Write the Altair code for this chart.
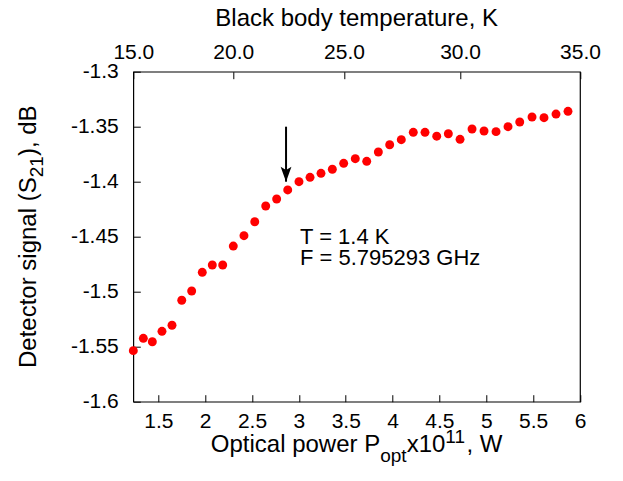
import json
import altair as alt
import pandas as pd

# ---------------- data ----------------
power = [1.233, 1.340, 1.436, 1.539, 1.646, 1.750, 1.856, 1.969, 2.076, 2.187,
         2.300, 2.414, 2.529, 2.646, 2.763, 2.881, 3.001, 3.119, 3.236, 3.357,
         3.478, 3.602, 3.724, 3.848, 3.969, 4.093, 4.221, 4.346, 4.471, 4.595,
         4.720, 4.848, 4.976, 5.104, 5.232, 5.357, 5.488, 5.616, 5.744, 5.872]
signal = [-1.5536, -1.5424, -1.5455, -1.5360, -1.5305, -1.5078, -1.4994, -1.4824, -1.4757, -1.4757,
          -1.4585, -1.4491, -1.4364, -1.4221, -1.4157, -1.4075, -1.4000, -1.3960, -1.3924, -1.3887,
          -1.3833, -1.3791, -1.3815, -1.3730, -1.3664, -1.3618, -1.3551, -1.3551, -1.3586, -1.3564,
          -1.3615, -1.3521, -1.3539, -1.3545, -1.3500, -1.3457, -1.3412, -1.3418, -1.3385, -1.3360]

x_ticks = [1.5, 2, 2.5, 3, 3.5, 4, 4.5, 5, 5.5, 6]
y_ticks = [-1.3, -1.35, -1.4, -1.45, -1.5, -1.55, -1.6]
top_tick_power = [1.233, 2.300, 3.482, 4.720, 6.0]
top_tick_labels = ["15.0", "20.0", "25.0", "30.0", "35.0"]

arrow_x = [2.863]
arrow_from = [-1.35]
arrow_to = [-1.40]

annotation = ["T = 1.4 K\nF = 5.795293 GHz"]

top_title = "Black body temperature, K"
# (text, role) pieces: role "n" normal, "sub" subscript, "sup" superscript
x_title = [("Optical power P", "n"), ("opt", "sub"), ("x10", "n"), ("11", "sup"), (", W", "n")]
y_title = [("Detector signal (S", "n"), ("21", "sub"), ("), dB", "n")]

X_DOM = [1.233, 6.0]
Y_DOM = [-1.6, -1.3]

# ---------------- styling ----------------
FONT = "Liberation Sans"
TICK_FS = 21
TITLE_FS = 24
SUB_FS = 19
ANN_FS = 22
W, H = 446.7, 330

# Arial / Liberation Sans advance widths (per 1000 em), used to place title pieces
ADV = {" ": 278, "(": 333, ")": 333, ",": 278, ".": 278, "D": 722, "B": 667, "K": 667,
       "O": 778, "P": 667, "S": 667, "W": 944, "a": 556, "b": 556, "c": 500, "d": 556,
       "e": 556, "g": 556, "i": 222, "l": 222, "n": 556, "o": 556, "p": 556, "r": 333,
       "s": 500, "t": 278, "w": 722, "x": 500}


def text_w(s, size):
    return sum(ADV.get(ch, 556) for ch in s) * size / 1000.0


xs = alt.Scale(domain=X_DOM, nice=False, zero=False)
ys = alt.Scale(domain=Y_DOM, nice=False, zero=False)

common_axis = dict(domain=False, grid=False, tickSize=7, offset=-7, tickColor="black",
                   tickWidth=1, labelFont=FONT, labelFontSize=TICK_FS, labelColor="black",
                   labelFlush=False, labelOverlap=False, title=None)

x_axis = alt.Axis(orient="bottom", values=x_ticks, labelExpr="'' + datum.value",
                  labelPadding=9, **common_axis)
y_axis = alt.Axis(orient="left", values=y_ticks, labelExpr="'' + datum.value",
                  labelPadding=15, **common_axis)
top_expr = "%s[indexof(%s, datum.value)]" % (json.dumps(top_tick_labels), json.dumps(top_tick_power))
top_axis_def = alt.Axis(orient="top", values=top_tick_power, labelExpr=top_expr,
                        labelPadding=9, **common_axis)

df = pd.DataFrame({"power": power, "signal": signal})
points = alt.Chart(df).mark_circle(size=80, color="#ff0000", opacity=1).encode(
    x=alt.X("power:Q", scale=xs, axis=x_axis),
    y=alt.Y("signal:Q", scale=ys, axis=y_axis),
)

arrow_df = pd.DataFrame({"x": arrow_x, "y": arrow_from, "y2": arrow_to})
shaft = alt.Chart(arrow_df).mark_rule(color="black", strokeWidth=2).encode(
    x=alt.X("x:Q", scale=xs), y=alt.Y("y:Q", scale=ys), y2="y2:Q")
head = alt.Chart(arrow_df).mark_point(
    shape="M0,0 L-0.72,-2 L0,-1.55 L0.72,-2 Z", size=225, filled=True,
    color="black", opacity=1, strokeWidth=0).encode(
    x=alt.X("x:Q", scale=xs), y=alt.Y("y2:Q", scale=ys))

ann = alt.Chart(pd.DataFrame({"t": annotation})).mark_text(
    align="left", baseline="alphabetic", font=FONT, fontSize=ANN_FS, lineBreak="\n",
    lineHeight=21, color="black").encode(text="t:N", x=alt.value(166.7), y=alt.value(172.3))


def label(text, x, y, size=TITLE_FS, align="left", angle=0):
    kw = dict(align=align, baseline="alphabetic", font=FONT, fontSize=size, color="black")
    if angle:
        kw["angle"] = angle
    return alt.Chart(pd.DataFrame({"t": [text]})).mark_text(**kw).encode(
        text="t:N", x=alt.value(x), y=alt.value(y))


def piece_size(role):
    return TITLE_FS if role == "n" else SUB_FS


titles = [label(top_title, W / 2, -45.5, align="center")]

# bottom title: laid out left to right, centred under the plot
X_BASE = 380
x_shift = {"n": 0, "sub": 10, "sup": -9}
total = sum(text_w(t, piece_size(r)) for t, r in x_title)
cx = W / 2 - total / 2
for t, r in x_title:
    titles.append(label(t, cx, X_BASE + x_shift[r], size=piece_size(r)))
    cx += text_w(t, piece_size(r))

# left title: rotated, laid out bottom to top, centred on the plot
Y_BASE = -97.3
y_shift = {"n": 0, "sub": 7, "sup": -8}
total = sum(text_w(t, piece_size(r)) for t, r in y_title)
cy = H / 2 + total / 2
for t, r in y_title:
    titles.append(label(t, Y_BASE + y_shift[r], cy, size=piece_size(r), angle=270))
    cy -= text_w(t, piece_size(r))

top_df = pd.DataFrame({"p": top_tick_power, "label": top_tick_labels})
top_axis = alt.Chart(top_df).mark_point(opacity=0).encode(
    x=alt.X("p:Q", scale=xs, axis=top_axis_def))

main = alt.layer(points, shaft, head, ann, *titles)

chart = alt.layer(main, top_axis).resolve_scale(x="independent").properties(
    width=W, height=H,
    padding={"left": 125.3, "top": 63.7, "right": 35, "bottom": 66},
    autosize=alt.AutoSizeParams(type="none"),
    background="white",
).configure_view(stroke="black", strokeWidth=1.2)

chart.save("out.html", embed_options={"renderer": "svg", "actions": False})
